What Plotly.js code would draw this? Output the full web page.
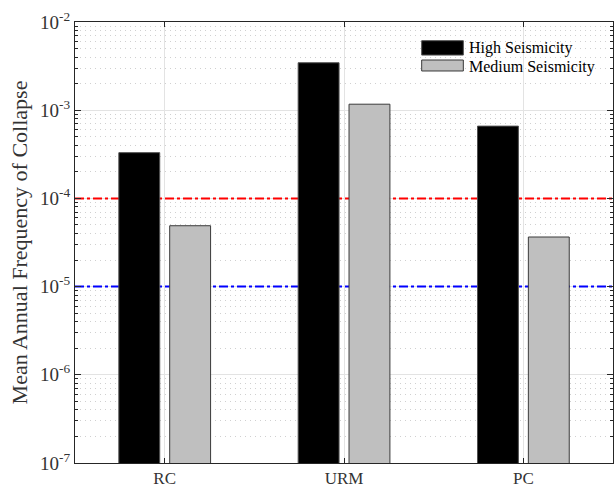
<!DOCTYPE html>
<html><head><meta charset="utf-8">
<script src="https://cdn.plot.ly/plotly-3.0.1.min.js"></script>
<style>html,body{margin:0;padding:0;background:#fff}#chart{width:614px;height:488px}</style>
</head><body><div id="chart"></div>
<script>
const categories = ['RC', 'URM', 'PC'];
const seriesNames = ['High Seismicity', 'Medium Seismicity'];
const highSeismicity = [3.3e-4, 3.45e-3, 6.6e-4];
const mediumSeismicity = [4.9e-5, 1.17e-3, 3.65e-5];
const thresholds = [1e-4, 1e-5];
const thresholdColors = ['#ff0000', '#0000ff'];
const yTickVals = [1e-7, 1e-6, 1e-5, 1e-4, 1e-3, 1e-2];
const yTickText = ['10<sup>-7</sup>', '10<sup>-6</sup>', '10<sup>-5</sup>', '10<sup>-4</sup>', '10<sup>-3</sup>', '10<sup>-2</sup>'];

// minor tick positions (2..9 in each decade)
const minorVals = [];
for (let e = -7; e < -2; e++) for (let m = 2; m <= 9; m++) minorVals.push(m * Math.pow(10, e));

const txt = '#333333';
const font = '"Liberation Serif", "Times New Roman", serif';

const traces = [
  {type: 'bar', x: categories, y: highSeismicity, name: seriesNames[0],
   width: 0.228, offset: -0.2556,
   marker: {color: '#000000', line: {color: '#505050', width: 1}}, showlegend: false},
  {type: 'bar', x: categories, y: mediumSeismicity, name: seriesNames[1],
   width: 0.228, offset: 0.028,
   marker: {color: '#bfbfbf', line: {color: '#3a3a3a', width: 1}}, showlegend: false}
];

const shapes = [
  {type: 'line', xref: 'x', yref: 'y', x0: -0.5, x1: 2.5,
   y0: thresholds[0], y1: thresholds[0],
   layer: 'between', line: {color: thresholdColors[0], width: 2, dash: 'dashdot'}},
  {type: 'line', xref: 'x', yref: 'y', x0: -0.5, x1: 2.5,
   y0: thresholds[1], y1: thresholds[1],
   layer: 'between', line: {color: thresholdColors[1], width: 2, dash: 'dashdot'}},
  // legend swatches
  {type: 'rect', xref: 'paper', yref: 'paper', x0: 0.6444, x1: 0.7218, y0: 0.925, y1: 0.9576,
   fillcolor: '#000000', line: {color: '#505050', width: 1}},
  {type: 'rect', xref: 'paper', yref: 'paper', x0: 0.6444, x1: 0.7218, y0: 0.8889, y1: 0.9138,
   fillcolor: '#bfbfbf', line: {color: '#3a3a3a', width: 1}}
];

const annotations = [
  {xref: 'paper', yref: 'paper', x: 0.7285, y: 0.941, xanchor: 'left', yanchor: 'middle',
   text: seriesNames[0], showarrow: false, font: {family: font, size: 16, color: '#000'}},
  {xref: 'paper', yref: 'paper', x: 0.7285, y: 0.899, xanchor: 'left', yanchor: 'middle',
   text: seriesNames[1], showarrow: false, font: {family: font, size: 16, color: '#000'}}
];

const layout = {
  width: 614, height: 488,
  margin: {l: 75, r: 1, t: 22, b: 25},
  paper_bgcolor: '#ffffff', plot_bgcolor: '#ffffff',
  barmode: 'overlay',
  showlegend: false,
  font: {family: font, color: txt},
  xaxis: {
    type: 'category', range: [-0.5, 2.5],
    showline: true, mirror: 'ticks', linecolor: '#262626', linewidth: 1,
    ticks: 'inside', ticklen: 5, tickcolor: '#262626',
    showgrid: true, gridcolor: '#e3e3e3', gridwidth: 1,
    tickfont: {family: font, size: 17, color: txt}, zeroline: false
  },
  yaxis: {
    type: 'log', range: [-7, -2],
    showline: true, mirror: 'ticks', linecolor: '#262626', linewidth: 1,
    ticks: 'inside', ticklen: 6, tickcolor: '#262626',
    tickmode: 'array', tickvals: yTickVals, ticktext: yTickText,
    showgrid: true, gridcolor: '#e3e3e3', gridwidth: 1,
    minor: {tickmode: 'array', tickvals: minorVals, ticks: 'inside', ticklen: 3, tickcolor: '#262626',
            showgrid: true, gridcolor: '#d0d0d0', griddash: '1px,4px', gridwidth: 1},
    tickfont: {family: font, size: 19, color: txt},
    title: {text: 'Mean Annual Frequency of Collapse', font: {family: font, size: 22, color: txt}, standoff: 6},
    zeroline: false
  },
  shapes: shapes,
  annotations: annotations
};

Plotly.newPlot('chart', traces, layout, {staticPlot: true, displayModeBar: false});
</script></body></html>
